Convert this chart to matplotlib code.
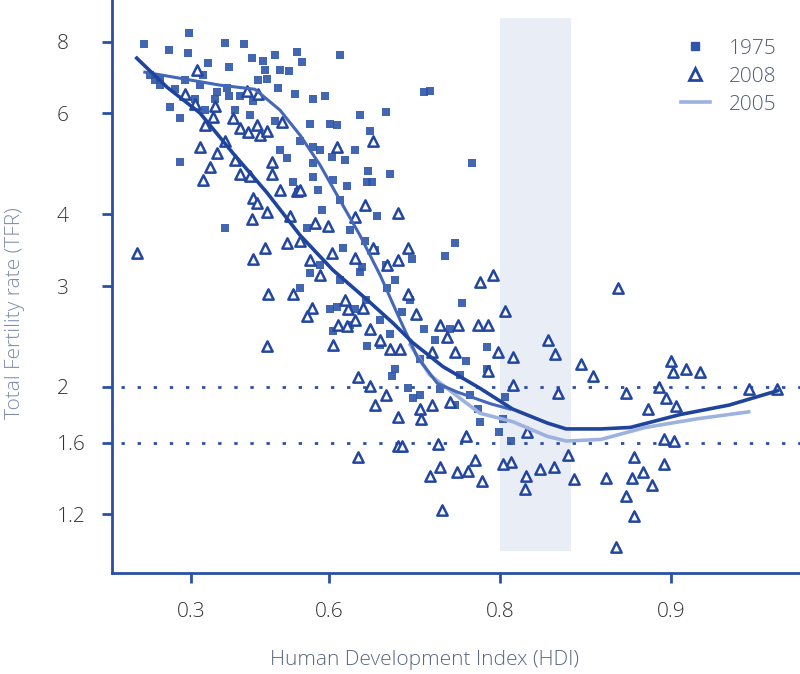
import numpy as np
import matplotlib
matplotlib.use('Agg')
import matplotlib.pyplot as plt
from matplotlib.lines import Line2D

# 1975 countries (filled squares)
hdi_1975 = [0.153, 0.235, 0.294, 0.291, 0.390, 0.435, 0.453, 0.477, 0.502, 0.544,
            0.399, 0.347, 0.529, 0.466, 0.486, 0.508, 0.283, 0.238, 0.268, 0.395,
            0.399, 0.455, 0.541, 0.268, 0.390, 0.333, 0.190, 0.206, 0.325, 0.370,
            0.426, 0.525, 0.537, 0.546, 0.554, 0.617, 0.573, 0.593, 0.728, 0.734,
            0.647, 0.682, 0.661, 0.568, 0.602, 0.612, 0.573, 0.605, 0.573, 0.658,
            0.688, 0.657, 0.664, 0.573, 0.582, 0.606, 0.628, 0.776, 0.588, 0.671,
            0.760, 0.750, 0.622, 0.714, 0.568, 0.650, 0.550, 0.563, 0.647, 0.767,
            0.612, 0.684, 0.606, 0.657, 0.702, 0.789, 0.770, 0.789, 0.804, 0.809,
            0.690, 0.709, 0.715, 0.783, 0.781, 0.799, 0.602, 0.633, 0.675, 0.694,
            0.723, 0.745, 0.765, 0.774, 0.760, 0.723, 0.655, 0.675, 0.688, 0.802,
            0.173, 0.206, 0.253, 0.312, 0.339, 0.365, 0.414, 0.481, 0.512, 0.449,
            0.502, 0.550, 0.585, 0.625, 0.640, 0.512, 0.617, 0.633, 0.654, 0.668,
            0.682, 0.694, 0.617, 0.585, 0.640, 0.712, 0.728, 0.740, 0.755]
tfr_1975 = [7.93, 7.74, 8.29, 7.64, 7.96, 7.93, 7.49, 7.40, 7.58, 7.67,
            7.23, 7.34, 7.12, 6.87, 6.89, 6.65, 6.87, 6.15, 5.89, 6.65,
            6.43, 6.30, 6.48, 4.93, 3.79, 7.00, 6.87, 6.73, 6.73, 6.53,
            6.43, 5.02, 4.56, 4.37, 7.37, 7.58, 6.35, 6.43, 6.53, 6.56,
            5.96, 6.03, 5.58, 5.74, 5.74, 5.72, 5.24, 5.03, 4.91, 4.76,
            4.71, 4.56, 4.56, 4.64, 4.41, 4.59, 4.49, 4.91, 4.07, 3.98,
            3.56, 3.39, 3.49, 3.34, 3.16, 3.24, 2.98, 3.78, 3.17, 2.80,
            2.76, 2.98, 2.50, 2.36, 2.70, 2.35, 2.22, 2.15, 1.92, 1.61,
            2.09, 1.99, 1.91, 1.74, 1.83, 1.67, 2.73, 2.57, 2.37, 2.15,
            1.94, 1.98, 2.10, 1.94, 1.86, 2.24, 2.84, 2.62, 2.47, 1.76,
            7.00, 6.91, 6.61, 6.35, 6.08, 6.35, 6.08, 7.15, 7.15, 5.96,
            5.83, 5.38, 5.17, 4.97, 5.17, 5.17, 4.24, 3.75, 3.60, 3.46,
            3.26, 3.07, 3.07, 3.26, 2.73, 2.84, 2.52, 2.42, 2.52]

# 2008 countries (open triangles)
hdi_2008 = [0.128, 0.317, 0.365, 0.360, 0.325, 0.370, 0.352, 0.333, 0.409, 0.426,
            0.444, 0.464, 0.471, 0.486, 0.516, 0.442, 0.466, 0.496, 0.496, 0.426,
            0.449, 0.455, 0.464, 0.486, 0.453, 0.525, 0.481, 0.455, 0.488, 0.537,
            0.544, 0.665, 0.612, 0.654, 0.697, 0.577, 0.598, 0.640, 0.605, 0.640,
            0.665, 0.710, 0.684, 0.697, 0.710, 0.783, 0.794, 0.876, 0.550, 0.571,
            0.563, 0.630, 0.651, 0.614, 0.628, 0.486, 0.606, 0.644, 0.661, 0.644,
            0.698, 0.698, 0.804, 0.719, 0.745, 0.763, 0.781, 0.790, 0.835, 0.840,
            0.856, 0.863, 0.900, 0.9006, 0.906, 0.911, 0.752, 0.760, 0.798, 0.810,
            0.790, 0.736, 0.810, 0.842, 0.880, 0.895, 0.927, 0.935, 0.821, 0.848,
            0.884, 0.890, 0.898, 0.902, 0.897, 0.901, 0.897, 0.888, 0.883, 0.892,
            0.870, 0.852, 0.839, 0.830, 0.820, 0.819, 0.809, 0.802, 0.785, 0.779,
            0.772, 0.762, 0.745, 0.734, 0.747, 0.880, 0.884, 0.875, 0.703, 0.743,
            0.723, 0.725, 0.737, 0.755, 0.770, 0.700, 0.283, 0.312, 0.339, 0.390,
            0.414, 0.512, 0.531, 0.550, 0.568, 0.585, 0.625, 0.640, 0.661, 0.675,
            0.688, 0.682, 0.668]
tfr_2008 = [3.43, 7.15, 6.17, 5.91, 5.24, 5.12, 4.84, 4.59, 5.89, 5.65,
            5.56, 5.72, 5.50, 5.60, 5.79, 6.56, 6.48, 4.93, 4.71, 4.71,
            4.67, 4.28, 4.19, 4.04, 3.93, 3.56, 3.50, 3.35, 2.91, 2.91,
            4.39, 5.38, 5.24, 4.15, 4.02, 3.87, 3.82, 3.95, 3.43, 3.36,
            3.49, 3.50, 3.26, 3.33, 2.91, 3.05, 3.14, 2.98, 4.41, 2.75,
            2.66, 2.73, 2.75, 2.57, 2.55, 2.36, 2.37, 2.08, 2.01, 1.51,
            1.77, 1.58, 2.71, 2.68, 2.57, 2.57, 2.57, 2.57, 2.42, 2.28,
            2.19, 2.09, 2.22, 2.12, 2.15, 2.12, 2.44, 2.30, 2.30, 2.26,
            2.13, 2.30, 2.02, 1.95, 1.95, 2.00, 1.98, 1.98, 1.67, 1.52,
            1.51, 1.83, 1.91, 1.85, 1.62, 1.61, 1.47, 1.42, 1.39, 1.35,
            1.39, 1.38, 1.45, 1.44, 1.40, 1.33, 1.48, 1.47, 1.37, 1.49,
            1.43, 1.42, 1.45, 1.40, 1.22, 1.29, 1.19, 1.05, 1.58, 1.59,
            1.83, 1.76, 1.86, 1.88, 1.64, 2.33, 6.48, 6.22, 5.72, 5.38,
            4.97, 4.41, 3.98, 3.60, 3.33, 3.14, 2.84, 2.62, 2.52, 2.42,
            2.33, 1.94, 1.86]

# smoothed curves
main_hdi = [0.128, 0.228, 0.325, 0.409, 0.486, 0.550, 0.606, 0.657, 0.692, 0.715,
            0.748, 0.783, 0.810, 0.835, 0.847, 0.867, 0.882, 0.9035, 0.921, 0.935]
main_tfr = [7.49, 6.67, 6.01, 5.12, 4.36, 3.68, 3.20, 2.84, 2.58, 2.39,
            2.17, 1.99, 1.83, 1.73, 1.69, 1.69, 1.70, 1.79, 1.86, 1.97]
c1975_hdi = [0.156, 0.268, 0.378, 0.460, 0.512, 0.550, 0.585, 0.617, 0.647, 0.675,
             0.700, 0.720, 0.742, 0.762, 0.792, 0.808]
c1975_tfr = [7.08, 6.91, 6.72, 6.61, 6.08, 5.50, 4.88, 4.24, 3.68, 3.13,
             2.62, 2.26, 2.03, 1.96, 1.87, 1.83]
c2005_hdi = [0.712, 0.734, 0.765, 0.783, 0.810, 0.835, 0.847, 0.867, 0.889, 0.910, 0.927]
c2005_tfr = [2.37, 2.10, 1.91, 1.80, 1.74, 1.64, 1.61, 1.62, 1.70, 1.76, 1.81]

x_ticks = [0.3, 0.6, 0.8, 0.9]
x_tick_labels = ['0.3', '0.6', '0.8', '0.9']
y_ticks = [1.2, 1.6, 2, 3, 4, 6, 8]
y_tick_labels = ['1.2', '1.6', '2', '3', '4', '6', '8']
ref_levels = [2.0, 1.6]
band_hdi = [0.80, 0.85]
band_tfr = [1.036, 8.8]

axis_blue = '#2a4fa3'
marker_blue = '#2e55aa'
dark_line = '#1f449c'
mid_line = '#4467b8'
light_line = '#9db2de'

plt.rcParams['font.family'] = ['Open Sans', 'DejaVu Sans']
plt.rcParams['font.weight'] = 'light'


def fwd(x):
    return -np.log(1 - np.clip(x, None, 0.9999))


def inv(t):
    return 1 - np.exp(-t)


fig = plt.figure(figsize=(8, 6.74), dpi=100)
ax = fig.add_axes([0.14, 0.15, 0.86, 0.85])
ax.set_xscale('function', functions=(fwd, inv))
ax.set_yscale('log')
ax.set_xlim(0.036, 0.9407)
ax.set_ylim(0.948, 9.46)

# shaded band
ax.fill_betweenx(band_tfr, band_hdi[0], band_hdi[1], color='#e9edf6', lw=0, zorder=0)

# reference levels
for lvl in ref_levels:
    ax.plot([0.07, 0.9407], [lvl, lvl], color=axis_blue, lw=2,
            linestyle=(0, (1.2, 4.6)), zorder=1)

ax.scatter(hdi_1975, tfr_1975, marker='s', s=30, color=marker_blue, lw=0,
           alpha=0.9, zorder=2)
ax.scatter(hdi_2008, tfr_2008, marker='^', s=55, facecolor='white',
           edgecolor='#2347a0', linewidths=1.8, zorder=3)

ax.plot(c2005_hdi, c2005_tfr, color=light_line, lw=2.6, zorder=4)
ax.plot(c1975_hdi, c1975_tfr, color=mid_line, lw=2.2, zorder=4)
ax.plot(main_hdi, main_tfr, color=dark_line, lw=2.6, zorder=5)

for s in ['top', 'right']:
    ax.spines[s].set_visible(False)
for s in ['left', 'bottom']:
    ax.spines[s].set_color(axis_blue)
    ax.spines[s].set_linewidth(2)

ax.set_xticks(x_ticks)
ax.set_xticklabels(x_tick_labels)
ax.set_yticks(y_ticks)
ax.set_yticklabels(y_tick_labels)
ax.minorticks_off()
ax.tick_params(axis='both', direction='out', length=7, width=2, color=axis_blue,
               labelcolor='#333333', labelsize=15)
ax.tick_params(axis='x', pad=14)
ax.tick_params(axis='y', pad=33)
for lab in ax.get_yticklabels():
    lab.set_horizontalalignment('left')

fig.text(425 / 800, 1 - 660 / 674, 'Human Development Index (HDI)',
         ha='center', va='center', fontsize=15, color='#5b6682')
fig.text(15 / 800, 1 - 313 / 674, 'Total Fertility rate (TFR)', rotation=90,
         ha='center', va='center', fontsize=15, color='#7d8aa8')

handles = [Line2D([], [], marker='s', ls='none', color=marker_blue, ms=6),
           Line2D([], [], marker='^', ls='none', mfc='white', mec='#2347a0',
                  mew=2, ms=8),
           Line2D([], [], color=light_line, lw=2.6)]
ax.legend(handles, ['1975', '2008', '2005'], loc='upper left',
          bbox_to_anchor=(662 / 800, 1 - 20 / 674), bbox_transform=fig.transFigure,
          frameon=False, fontsize=15, labelcolor='#4f5b75', handlelength=1.4,
          handletextpad=0.9, labelspacing=0.38)

fig.savefig('out.png', dpi=100)
